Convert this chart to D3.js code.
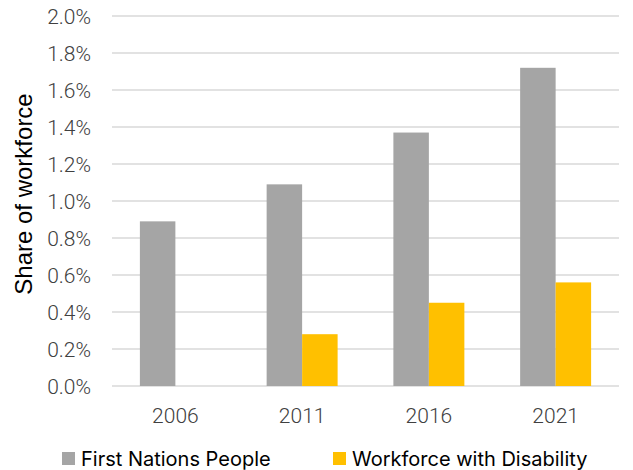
<!DOCTYPE html>
<meta charset="utf-8">
<html>
    <head>
        <script src="https://d3js.org/d3.v7.min.js"></script>
        <style>
            body { margin: 0; background: #fff; }
        </style>
    </head>
    <body>
        <div id="viz"></div>
    <script>
        const years = ["2006", "2011", "2016", "2021"];
        const seriesNames = ["First Nations People", "Workforce with Disability"];
        const firstNations = [0.89, 1.09, 1.37, 1.72];
        const disability = [null, 0.28, 0.45, 0.56];
        const yTicks = [0, 0.2, 0.4, 0.6, 0.8, 1.0, 1.2, 1.4, 1.6, 1.8, 2.0];

        const colors = ["#a5a5a5", "#ffc000"];
        const w = 633, h = 470;
        const margin = {top: 16, right: 14, bottom: 84, left: 112};

        const svg = d3.select("#viz").append("svg")
            .attr("width", w)
            .attr("height", h);

        const x = d3.scaleBand()
            .domain(years)
            .range([margin.left, w - margin.right])
            .paddingInner(0.44)
            .paddingOuter(0.22);

        const xInner = d3.scaleBand()
            .domain(seriesNames)
            .range([0, x.bandwidth()]);

        const y = d3.scaleLinear()
            .domain([0, 2.0])
            .range([h - margin.bottom, margin.top]);

        // gridlines
        svg.append("g")
            .selectAll("line")
            .data(yTicks)
            .join("line")
            .attr("x1", margin.left)
            .attr("x2", w - margin.right)
            .attr("y1", d => y(d))
            .attr("y2", d => y(d))
            .attr("stroke", "#d9d9d9")
            .attr("stroke-width", 1.3);

        // y tick labels
        svg.append("g")
            .selectAll("text")
            .data(yTicks)
            .join("text")
            .attr("x", 91)
            .attr("y", d => y(d))
            .attr("dy", "0.36em")
            .attr("text-anchor", "end")
            .style("font-family", "Roboto, sans-serif")
            .style("font-weight", 300)
            .style("font-size", "21px")
            .style("fill", "#404040")
            .text(d => d.toFixed(1) + "%");

        // bars
        const rows = [];
        years.forEach((yr, i) => {
            rows.push({year: yr, series: seriesNames[0], value: firstNations[i], color: colors[0]});
            if (disability[i] != null)
                rows.push({year: yr, series: seriesNames[1], value: disability[i], color: colors[1]});
        });

        svg.append("g")
            .selectAll("rect")
            .data(rows)
            .join("rect")
            .attr("x", d => x(d.year) + xInner(d.series))
            .attr("width", xInner.bandwidth())
            .attr("y", d => y(d.value))
            .attr("height", d => y(0) - y(d.value))
            .attr("fill", d => d.color);

        // x labels
        svg.append("g")
            .selectAll("text")
            .data(years)
            .join("text")
            .attr("x", d => x(d) + x.bandwidth() / 2)
            .attr("y", 423)
            .attr("text-anchor", "middle")
            .style("font-family", "Roboto, sans-serif")
            .style("font-weight", 300)
            .style("font-size", "21px")
            .style("fill", "#404040")
            .text(d => d);

        // y axis title
        svg.append("text")
            .attr("transform", "translate(32,194) rotate(-90)")
            .attr("text-anchor", "middle")
            .style("font-family", "'Liberation Sans', Arial, sans-serif")
            .style("font-size", "24px")
            .style("fill", "#000")
            .text("Share of workforce");

        // legend
        const legendX = [62, 333];
        const legend = svg.append("g")
            .selectAll("g")
            .data(seriesNames)
            .join("g")
            .attr("transform", (d, i) => `translate(${legendX[i]},452)`);

        legend.append("rect")
            .attr("width", 13)
            .attr("height", 13)
            .attr("fill", (d, i) => colors[i]);

        legend.append("text")
            .attr("x", 19)
            .attr("y", 7)
            .attr("dy", "0.36em")
            .style("font-family", "Inter, sans-serif")
            .style("font-size", "20px")
            .style("fill", "#000")
            .text(d => d);
    </script>
    </body>
</html>
